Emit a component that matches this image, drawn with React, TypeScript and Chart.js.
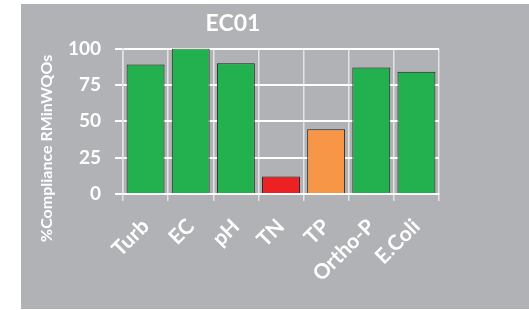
import React, { useEffect, useRef } from "react";
import { Chart, registerables } from "chart.js";

Chart.register(...registerables);

const TITLE = "EC01";
const Y_TITLE = "%Compliance RMinWQOs";
const categories = ["Turb", "EC", "pH", "TN", "TP", "Ortho-P", "E.Coli"];
const values = [89, 100, 90, 12, 44.5, 87, 84];
const barColors = ["#23b04f", "#23b04f", "#23b04f", "#ed2024", "#f79646", "#23b04f", "#23b04f"];
const yTicks = [0, 25, 50, 75, 100];

const FONT = "Lato";

const yTitlePlugin = {
  id: "yTitlePlugin",
  afterDraw(chart: any) {
    const { ctx, chartArea } = chart;
    ctx.save();
    ctx.translate(26, (chartArea.top + chartArea.bottom) / 2 + 27);
    ctx.rotate(-Math.PI / 2);
    ctx.font = `bold 16px ${FONT}`;
    ctx.fillStyle = "#ffffff";
    ctx.textAlign = "center";
    ctx.textBaseline = "middle";
    ctx.fillText(Y_TITLE, 0, 0);
    ctx.restore();
  },
};

export default function App() {
  const ref = useRef<HTMLCanvasElement>(null);
  useEffect(() => {
    if (!ref.current) return;
    const chart = new Chart(ref.current, {
      type: "bar",
      data: {
        labels: categories,
        datasets: [
          {
            data: values,
            backgroundColor: barColors,
            borderColor: "#1f1f1f",
            borderWidth: 1,
            barPercentage: 0.84,
            categoryPercentage: 1,
          },
        ],
      },
      options: {
        responsive: false,
        animation: false,
        layout: { padding: { left: 6, right: 6, top: 0, bottom: 0 } },
        plugins: {
          legend: { display: false },
          tooltip: { enabled: false },
          title: {
            display: true,
            text: TITLE,
            color: "#ffffff",
            font: { family: FONT, size: 23, weight: "bold", lineHeight: 1.2 },
            padding: { top: 6, bottom: 11 },
          },
        },
        scales: {
          x: {
            afterFit: (s: any) => {
              s.height = 115;
              s.paddingLeft = 0;
              s.paddingRight = 0;
            },
            grid: {
              color: "#e4e4e4",
              lineWidth: 1.5,
              offset: true,
              tickLength: 7,
            },
            border: { color: "#ffffff", width: 2 },
            ticks: {
              color: "#ffffff",
              font: { family: FONT, size: 21, weight: "bold" },
              minRotation: 45,
              maxRotation: 45,
              padding: 13,
            },
          },
          y: {
            min: 0,
            max: 100,
            afterFit: (s: any) => {
              s.width = 96;
            },
            afterBuildTicks: (s: any) => {
              s.ticks = yTicks.map((v) => ({ value: v }));
            },
            grid: { color: "#ffffff", lineWidth: 2, tickLength: 8 },
            border: { color: "#e4e4e4", width: 1.5 },
            ticks: {
              color: "#ffffff",
              font: { family: FONT, size: 19, weight: "bold" },
              padding: 14,
            },
          },
        },
      },
      plugins: [yTitlePlugin],
    });
    return () => chart.destroy();
  }, []);

  return (
    <div
      style={{
        position: "absolute",
        left: 21,
        top: 4,
        width: 508,
        height: 305,
        background: "#b1b2b5",
      }}
    >
      <canvas ref={ref} width={424} height={305} style={{ width: 424, height: 305, display: "block" }} />
    </div>
  );
}
